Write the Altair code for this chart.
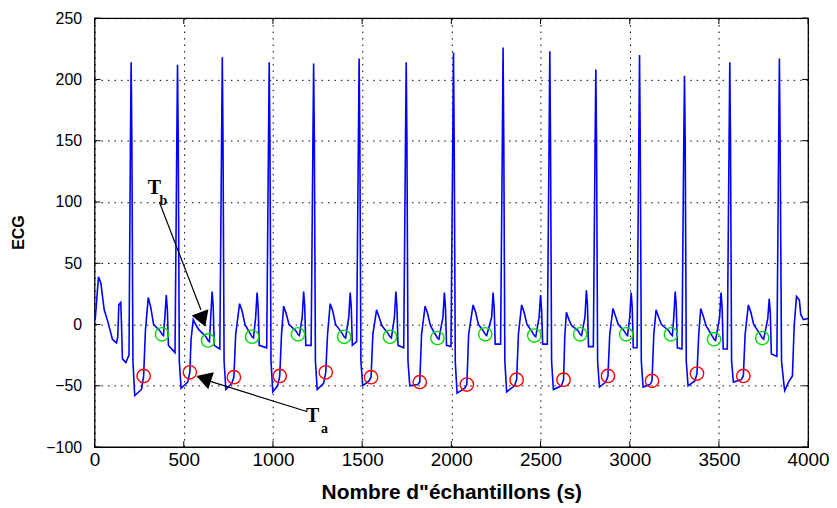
import altair as alt
import pandas as pd

# ---------------- data ----------------
ecg_x = [
    0, 4, 22, 35, 54, 73, 100, 123, 130, 136, 147, 152, 156, 175, 193,
    201, 205, 209, 215, 225, 263, 275, 285, 301, 315, 331, 366, 378, 386, 394, 402, 408, 414, 451,
    461, 465, 469, 475, 485, 522, 534, 541, 553, 567, 583, 624, 636, 644, 651, 659, 665, 671, 702,
    712, 716, 720, 726, 736, 769, 781, 791, 813, 827, 843, 871, 883, 891, 903, 911, 917, 923, 965,
    975, 979, 983, 989, 999, 1026, 1038, 1048, 1060, 1074, 1090, 1128, 1140, 1148, 1164, 1172, 1178, 1184, 1214,
    1224, 1228, 1232, 1238, 1248, 1284, 1296, 1306, 1321, 1335, 1351, 1387, 1399, 1407, 1425, 1433, 1439, 1445, 1469,
    1479, 1483, 1487, 1493, 1503, 1538, 1550, 1560, 1581, 1595, 1611, 1644, 1656, 1664, 1681, 1689, 1695, 1701, 1733,
    1743, 1747, 1751, 1757, 1767, 1811, 1823, 1833, 1853, 1867, 1883, 1910, 1922, 1930, 1953, 1961, 1967, 1973, 1998,
    2008, 2012, 2016, 2022, 2032, 2075, 2087, 2097, 2122, 2136, 2152, 2178, 2190, 2198, 2226, 2234, 2240, 2246, 2276,
    2286, 2290, 2294, 2300, 2310, 2354, 2366, 2376, 2394, 2408, 2424, 2453, 2465, 2473, 2492, 2500, 2506, 2512, 2538,
    2548, 2552, 2556, 2562, 2572, 2617, 2629, 2636, 2645, 2659, 2675, 2710, 2722, 2730, 2749, 2757, 2763, 2769, 2796,
    2806, 2810, 2814, 2820, 2830, 2866, 2878, 2888, 2906, 2920, 2936, 2968, 2980, 2988, 3000, 3008, 3014, 3020, 3041,
    3051, 3055, 3059, 3065, 3075, 3113, 3125, 3135, 3148, 3162, 3178, 3219, 3231, 3239, 3247, 3255, 3261, 3267, 3293,
    3303, 3307, 3311, 3317, 3327, 3365, 3377, 3387, 3398, 3412, 3428, 3461, 3473, 3481, 3504, 3512, 3518, 3524, 3547,
    3557, 3561, 3565, 3571, 3581, 3625, 3637, 3647, 3665, 3679, 3695, 3731, 3743, 3751, 3774, 3782, 3788, 3794, 3825,
    3835, 3839, 3843, 3851, 3866, 3869, 3890, 3912, 3922, 3935, 3951, 3959, 3974, 4000,
]
ecg_y = [
    3, 5, 39, 34, 12, 3, -12, -15, -10, 16, 18, -5, -28, -31, -25,
    150, 214, 150, -30, -58, -53, -42, -5, 22, 14, 0, -5, -8, -9, 6, 24, 12, -17, -23,
    150, 212, 150, -30, -52, -47, -39, -12, 4, 0, -4, -10, -13, -14, 6, 27, 15, -17, -20,
    150, 218, 150, -30, -53, -48, -43, -8, 17, 11, 0, -7, -10, -11, 6, 26, 14, -17, -19,
    150, 214, 150, -30, -55, -50, -42, -8, 15, 9, 0, -5, -8, -9, 6, 27, 15, -17, -17,
    150, 213, 150, -30, -53, -48, -39, -8, 17, 11, 0, -7, -10, -11, 6, 26, 14, -17, -14,
    150, 217, 150, -30, -50, -46, -43, -8, 12, 6, -1, -7, -10, -11, 6, 27, 15, -17, -19,
    150, 214, 150, -30, -50, -49, -47, -8, 15, 9, -1, -8, -11, -12, 6, 26, 14, -17, -18,
    150, 222, 150, -30, -56, -52, -49, -8, 16, 10, 0, -5, -8, -9, 6, 26, 14, -16, -16,
    150, 226, 150, -30, -55, -50, -45, -8, 16, 10, 0, -6, -9, -10, 6, 24, 12, -16, -16,
    150, 223, 150, -30, -53, -50, -45, -10, 10, 4, -1, -5, -8, -9, 6, 28, 16, -18, -18,
    150, 208, 150, -30, -51, -47, -42, -8, 13, 7, 0, -5, -8, -9, 6, 26, 14, -19, -19,
    150, 220, 150, -30, -51, -49, -46, -8, 12, 6, 0, -5, -8, -9, 6, 27, 15, -19, -20,
    150, 203, 150, -30, -50, -46, -40, -8, 13, 7, -1, -9, -12, -13, 6, 26, 14, -20, -20,
    150, 214, 150, -30, -47, -45, -42, -8, 16, 10, 0, -8, -11, -12, 5, 21, 10, -24, -26,
    150, 217, 150, -30, -51, -54, -47, -42, -1, 23, 20, 8, 4, 5,
]

red_x = [275, 534, 781, 1038, 1296, 1550, 1823, 2087, 2366, 2629, 2878, 3125, 3377, 3637]
red_y = [-42, -39, -43, -42, -39, -43, -47, -49, -45, -45, -42, -46, -40, -42]
green_x = [378, 636, 883, 1140, 1399, 1656, 1922, 2190, 2465, 2722, 2980, 3231, 3473, 3743]
green_y = [-8, -13, -10, -8, -10, -10, -11, -8, -9, -8, -8, -8, -12, -11]

x_ticks = [0, 500, 1000, 1500, 2000, 2500, 3000, 3500, 4000]
y_ticks = [-100, -50, 0, 50, 100, 150, 200, 250]

# annotations: main letter, subscript, arrow start/end, arrowhead
ann_main_x = [335, 1222]
ann_main_y = [111, -75]
ann_main_t = ["T", "T"]
ann_sub_x = [386, 1289]
ann_sub_y = [101, -85]
ann_sub_t = ["b", "a"]
arrow_x1 = [363, 1190]
arrow_y1 = [100, -71]
arrow_x2 = [596, 640]
arrow_y2 = [12, -46]
head_x = [606, 612]
head_y = [4, -44]
head_angle = [160, 288]

# ---------------- chart ----------------
W, H = 717, 431

xs = alt.Scale(domain=[0, 4000], nice=False, zero=False)
ys = alt.Scale(domain=[-100, 250], nice=False, zero=False)

x_axis = alt.Axis(
    values=x_ticks, format="d", title='Nombre d"échantillons (s)',
    grid=True, gridColor="#000000", gridDash=[1.5, 5], gridWidth=1, gridOpacity=1,
    ticks=False, domain=False, labelFlush=False,
    labelFont="Liberation Sans", labelFontSize=19, labelColor="#000000", labelPadding=4,
    titleFont="Liberation Sans", titleFontSize=21, titleFontWeight="bold", titleColor="#000000",
    titleY=46, titleBaseline="middle",
)
y_axis = alt.Axis(
    values=y_ticks, format="d", title="ECG",
    grid=True, gridColor="#000000", gridDash=[1.5, 5], gridWidth=1, gridOpacity=1,
    ticks=False, domain=False, labelFlush=False,
    labelFont="Liberation Sans", labelFontSize=16, labelColor="#000000", labelPadding=13,
    titleFont="Liberation Sans", titleFontSize=16, titleFontWeight="bold", titleColor="#000000",
    titleAngle=270, titleX=-76, titleY=215, titleBaseline="middle", titleAlign="center",
)

ecg_df = pd.DataFrame({"x": ecg_x, "y": ecg_y})
red_df = pd.DataFrame({"x": red_x, "y": red_y})
green_df = pd.DataFrame({"x": green_x, "y": green_y})
xt_df = pd.DataFrame({"v": x_ticks})
yt_df = pd.DataFrame({"v": y_ticks})
main_df = pd.DataFrame({"x": ann_main_x, "y": ann_main_y, "t": ann_main_t})
sub_df = pd.DataFrame({"x": ann_sub_x, "y": ann_sub_y, "t": ann_sub_t})
arr_df = pd.DataFrame({"x": arrow_x1, "y": arrow_y1, "x2": arrow_x2, "y2": arrow_y2})
head_df = pd.DataFrame({"x": head_x, "y": head_y, "a": head_angle})

line = alt.Chart(ecg_df).mark_line(color="#0000FF", strokeWidth=1.6).encode(
    x=alt.X("x:Q", scale=xs, axis=x_axis),
    y=alt.Y("y:Q", scale=ys, axis=y_axis),
)

red = alt.Chart(red_df).mark_point(shape="circle", filled=False, size=180,
                                   color="#FF0000", strokeWidth=1.4, opacity=1).encode(
    x=alt.X("x:Q", scale=xs), y=alt.Y("y:Q", scale=ys))
green = alt.Chart(green_df).mark_point(shape="circle", filled=False, size=180,
                                       color="#00DD00", strokeWidth=1.4, opacity=1).encode(
    x=alt.X("x:Q", scale=xs), y=alt.Y("y:Q", scale=ys))

arrows = alt.Chart(arr_df).mark_rule(color="#000000", strokeWidth=1.2).encode(
    x=alt.X("x:Q", scale=xs), y=alt.Y("y:Q", scale=ys), x2="x2:Q", y2="y2:Q")
heads = alt.Chart(head_df).mark_point(shape="triangle-up", filled=True, size=320,
                                      color="#000000", opacity=1).encode(
    x=alt.X("x:Q", scale=xs), y=alt.Y("y:Q", scale=ys), angle=alt.Angle("a:Q", scale=None))

main_txt = alt.Chart(main_df).mark_text(font="Liberation Serif", fontWeight="bold",
                                        fontSize=20, color="#000000").encode(
    x=alt.X("x:Q", scale=xs), y=alt.Y("y:Q", scale=ys), text="t:N")
sub_txt = alt.Chart(sub_df).mark_text(font="Liberation Serif", fontWeight="bold",
                                      fontSize=14, color="#000000").encode(
    x=alt.X("x:Q", scale=xs), y=alt.Y("y:Q", scale=ys), text="t:N")

tick_len = 6
xt_bot = alt.Chart(xt_df).mark_rule(color="#000000", strokeWidth=1).encode(
    x=alt.X("v:Q", scale=xs), y=alt.value(H), y2=alt.value(H - tick_len))
xt_top = alt.Chart(xt_df).mark_rule(color="#000000", strokeWidth=1).encode(
    x=alt.X("v:Q", scale=xs), y=alt.value(0), y2=alt.value(tick_len))
yt_left = alt.Chart(yt_df).mark_rule(color="#000000", strokeWidth=1).encode(
    y=alt.Y("v:Q", scale=ys), x=alt.value(0), x2=alt.value(tick_len))
yt_right = alt.Chart(yt_df).mark_rule(color="#000000", strokeWidth=1).encode(
    y=alt.Y("v:Q", scale=ys), x=alt.value(W), x2=alt.value(W - tick_len))

chart = alt.layer(
    line, red, green, arrows, heads, main_txt, sub_txt, xt_bot, xt_top, yt_left, yt_right
).properties(
    width=W, height=H,
    autosize=alt.AutoSizeParams(type="none"),
    padding={"left": 87, "top": 9, "right": 21, "bottom": 56},
    background="#FFFFFF",
).configure_view(stroke="#000000", strokeWidth=1.3)

chart.save("out.html", embed_options={"renderer": "svg", "actions": False})
